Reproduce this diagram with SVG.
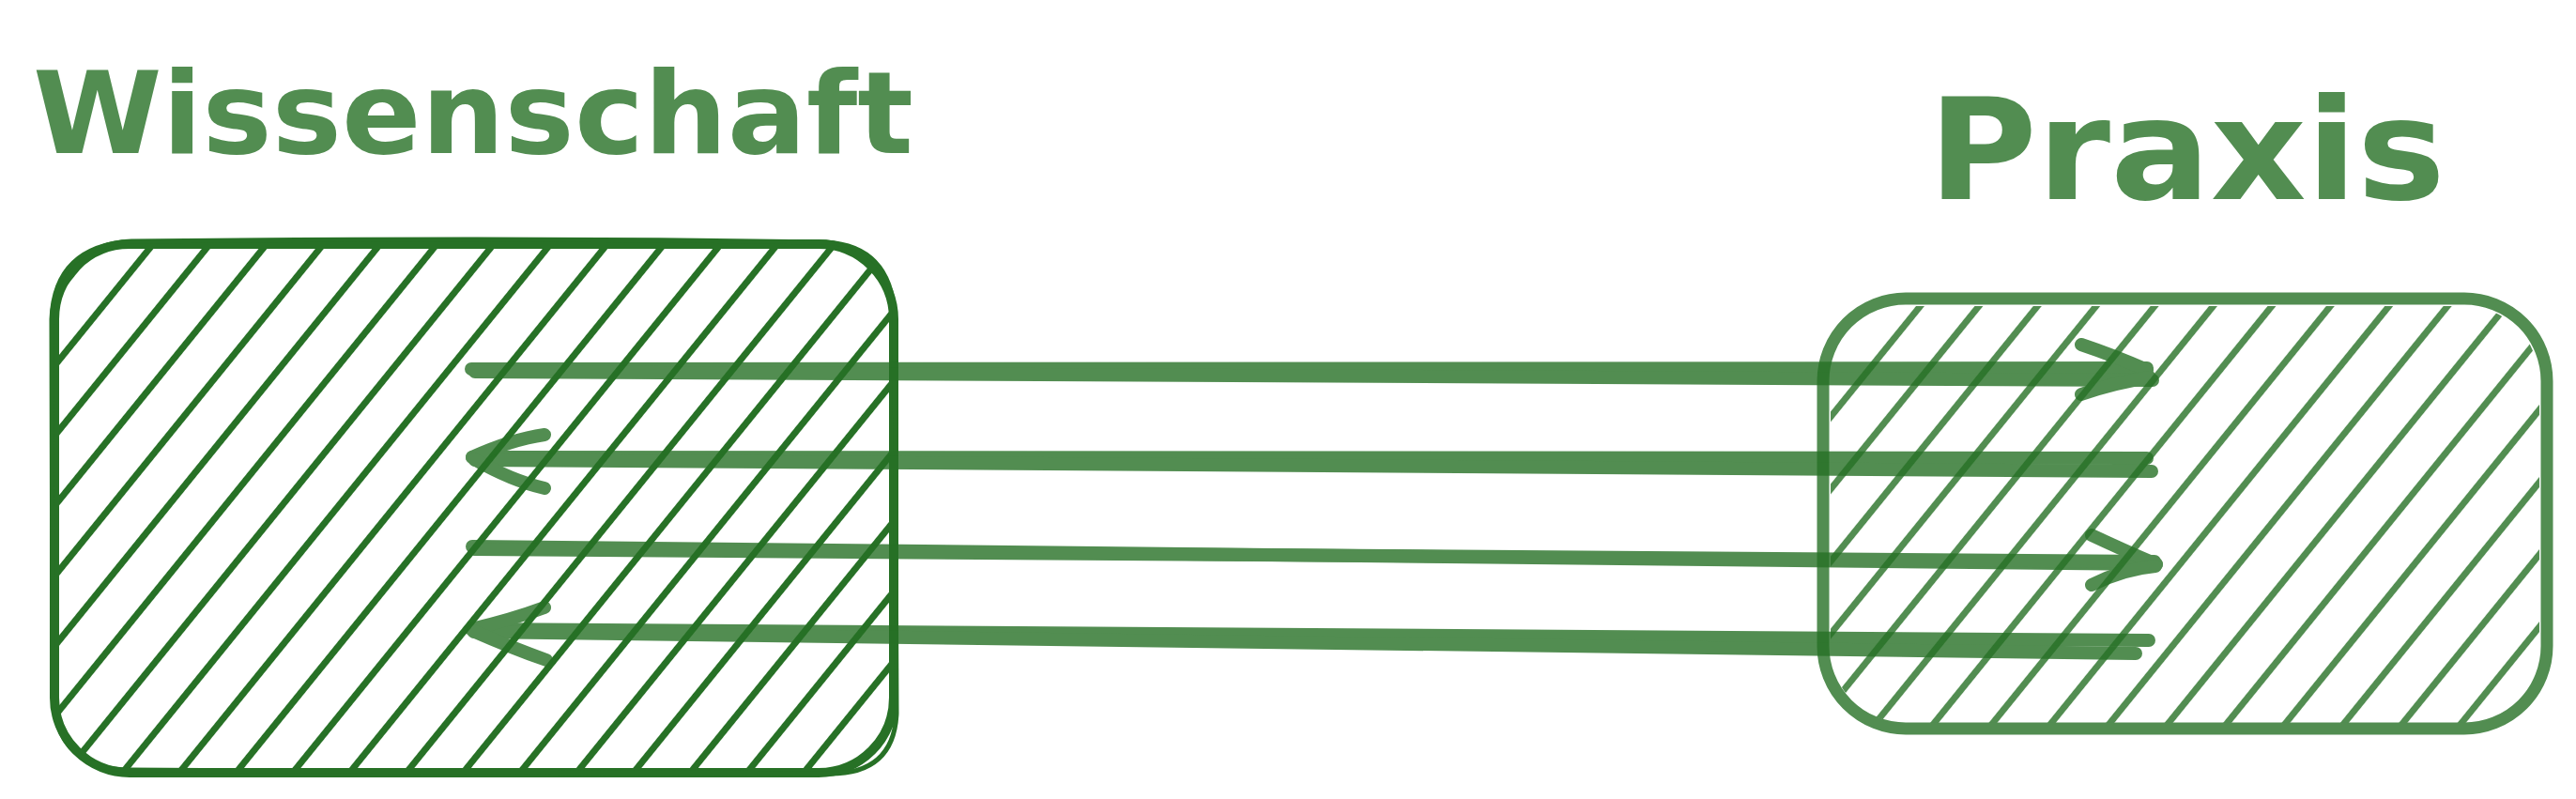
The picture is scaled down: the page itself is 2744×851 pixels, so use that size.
<svg xmlns="http://www.w3.org/2000/svg" width="2744" height="851" viewBox="0 0 2744 851">
  <style>
    .label { font-family: "DejaVu Sans", "Liberation Sans", sans-serif; font-weight: bold; fill: #277126; }
    .outline { fill: none; stroke: #277126; stroke-linecap: round; stroke-linejoin: round; }
    .hach { stroke: #277126; stroke-linecap: round; }
    .conn { fill: none; stroke: #277126; stroke-width: 14; stroke-linecap: round; stroke-linejoin: round; }
    .soft { opacity: 0.8; }
  </style>
  <defs>
    <pattern id="hachL" patternUnits="userSpaceOnUse" width="47" height="1000" patternTransform="translate(163 260) rotate(39) translate(-23.5 0)">
      <line class="hach" x1="23.5" y1="-10" x2="23.5" y2="1010" stroke-width="7"/>
    </pattern>
    <pattern id="hachR" patternUnits="userSpaceOnUse" width="48.5" height="1000" patternTransform="translate(2052 318) rotate(39) translate(-24.25 0)">
      <line class="hach" x1="24.25" y1="-10" x2="24.25" y2="1010" stroke-width="7"/>
    </pattern>
    <clipPath id="clipL"><rect x="60" y="262" width="890" height="559" rx="80"/></clipPath>
    <clipPath id="clipR"><rect x="1950" y="326" width="755" height="444" rx="80"/></clipPath>
  </defs>

  <g id="node-wissenschaft">
    <text class="label soft" x="35" y="163" font-size="121" textLength="938" lengthAdjust="spacingAndGlyphs">Wissenschaft</text>
    <rect x="58" y="260" width="894" height="563" fill="url(#hachL)" clip-path="url(#clipL)"/>
    <rect class="outline" x="58" y="260" width="894" height="563" rx="80" stroke-width="10"/>
    <path class="outline" stroke-width="5" d="M140,257 C420,254 700,255 880,258 Q948,262 953,335 L955,760 Q952,826 880,824 L135,820 Q60,818 56,740 L55,340 Q58,262 140,257"/>
  </g>

  <g id="node-praxis" class="soft">
    <text class="label" x="2054" y="212" font-size="150" textLength="551" lengthAdjust="spacingAndGlyphs">Praxis</text>
    <rect x="1942" y="318" width="771" height="458" fill="url(#hachR)" clip-path="url(#clipR)"/>
    <rect class="outline" x="1942" y="318" width="771" height="458" rx="88" stroke-width="13"/>
  </g>

  <g id="connectors">
    <g id="arrow-1" class="soft">
      <path class="conn" d="M502,393 L2287,392"/>
      <path class="conn" d="M506,396 L2293,405"/>
      <path class="conn" d="M2217,367 Q2250,378 2287,394"/>
      <path class="conn" d="M2217,420 Q2250,408 2290,402"/>
    </g>
    <g id="arrow-2" class="soft">
      <path class="conn" d="M2287,488 L503,487"/>
      <path class="conn" d="M2292,502 L506,490"/>
      <path class="conn" d="M580,463 Q545,468 503,487"/>
      <path class="conn" d="M580,520 Q545,512 505,489"/>
    </g>
    <g id="arrow-3" class="soft">
      <path class="conn" d="M503,582 L2297,601"/>
      <path class="conn" d="M505,585 L2295,598"/>
      <path class="conn" d="M2228,570 Q2260,585 2297,601"/>
      <path class="conn" d="M2228,623 Q2262,606 2296,603"/>
    </g>
    <g id="arrow-4" class="soft">
      <path class="conn" d="M2289,682 L502,670"/>
      <path class="conn" d="M2275,696 L505,673"/>
      <path class="conn" d="M580,647 Q545,660 502,670"/>
      <path class="conn" d="M582,703 Q545,690 504,672"/>
    </g>
  </g>
</svg>
